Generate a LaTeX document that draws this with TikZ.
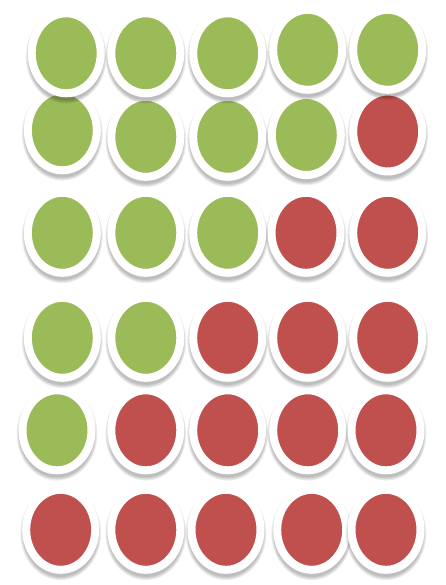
\documentclass[tikz,border=0pt]{standalone}
\usetikzlibrary{shapes.geometric,shadows}
\definecolor{cPass}{HTML}{9BBB59}
\definecolor{cFail}{HTML}{C0504D}

\begin{document}
\begin{tikzpicture}[x=1pt,y=-1pt,
    halo/.style={drop shadow={shadow xshift=0pt,shadow yshift=-3pt,
        shadow scale=#1,fill=black,opacity=.07}},
    dot/.style={ellipse,draw=white,line width=8pt,inner sep=0pt,
      minimum width=69pt,minimum height=80pt,
      halo=1.17,halo=1.145,halo=1.12,halo=1.095}]
  \useasboundingbox (0,0) rectangle (445,585);
  % rows from the bottom up, so each row lies over the one below
  \foreach \x/\y/\c [count=\i] in {
      60.7/529.8/cFail, 145.8/529.8/cFail, 226/529.8/cFail, 311.7/529.8/cFail, 386/529.8/cFail,
      57/430.3/cPass, 145.8/430.3/cFail, 227.7/430.3/cFail, 307.7/430.3/cFail, 386/430.3/cFail,
      62.3/337.8/cPass, 145.8/337.8/cPass, 227.7/337.8/cFail, 307.7/337.8/cFail, 387.7/337.8/cFail,
      62.3/232.8/cPass, 145.8/232.8/cPass, 227.7/232.8/cPass, 306/232.8/cFail, 387.7/232.8/cFail,
      62.3/130.3/cPass, 145.8/136.8/cPass, 227.7/136.8/cPass, 306.3/135/cPass, 387.7/131.5/cFail,
      66.2/53.3/cPass, 145.8/53.3/cPass, 227.7/53.3/cPass, 307.7/49.8/cPass, 387.7/49.8/cPass}
    \node[dot,fill=\c] (dot-\i) at (\x,\y) {};
\end{tikzpicture}
\end{document}
